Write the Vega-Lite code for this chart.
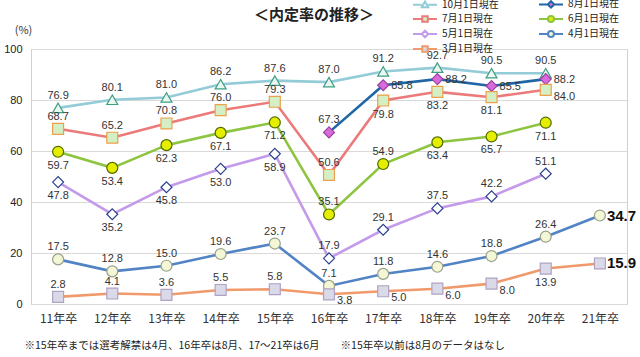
{
  "$schema": "https://vega.github.io/schema/vega-lite/v6.json",
  "width": 596,
  "height": 255,
  "autosize": {"type": "none"},
  "padding": {"left": 31, "top": 49, "right": 13, "bottom": 53},
  "title": {"text": "＜内定率の推移＞", "fontSize": 15, "fontWeight": "bold", "font": "Noto Sans CJK JP", "color": "#222222", "anchor": "middle", "dx": -15, "dy": 25, "frame": "group", "offset": 0},
  "config": {
    "view": {"stroke": "#D0D0D0", "strokeWidth": 1},
    "font": "Noto Sans CJK JP"
  },
  "data": {"values": [
    {"series": "10月1日現在", "year": "11年卒", "value": 76.9},
    {"series": "10月1日現在", "year": "12年卒", "value": 80.1},
    {"series": "10月1日現在", "year": "13年卒", "value": 81.0},
    {"series": "10月1日現在", "year": "14年卒", "value": 86.2},
    {"series": "10月1日現在", "year": "15年卒", "value": 87.6},
    {"series": "10月1日現在", "year": "16年卒", "value": 87.0},
    {"series": "10月1日現在", "year": "17年卒", "value": 91.2},
    {"series": "10月1日現在", "year": "18年卒", "value": 92.7},
    {"series": "10月1日現在", "year": "19年卒", "value": 90.5},
    {"series": "10月1日現在", "year": "20年卒", "value": 90.5},
    {"series": "8月1日現在", "year": "16年卒", "value": 67.3},
    {"series": "8月1日現在", "year": "17年卒", "value": 85.8},
    {"series": "8月1日現在", "year": "18年卒", "value": 88.2},
    {"series": "8月1日現在", "year": "19年卒", "value": 85.5},
    {"series": "8月1日現在", "year": "20年卒", "value": 88.2},
    {"series": "7月1日現在", "year": "11年卒", "value": 68.7},
    {"series": "7月1日現在", "year": "12年卒", "value": 65.2},
    {"series": "7月1日現在", "year": "13年卒", "value": 70.8},
    {"series": "7月1日現在", "year": "14年卒", "value": 76.0},
    {"series": "7月1日現在", "year": "15年卒", "value": 79.3},
    {"series": "7月1日現在", "year": "16年卒", "value": 50.6},
    {"series": "7月1日現在", "year": "17年卒", "value": 79.8},
    {"series": "7月1日現在", "year": "18年卒", "value": 83.2},
    {"series": "7月1日現在", "year": "19年卒", "value": 81.1},
    {"series": "7月1日現在", "year": "20年卒", "value": 84.0},
    {"series": "6月1日現在", "year": "11年卒", "value": 59.7},
    {"series": "6月1日現在", "year": "12年卒", "value": 53.4},
    {"series": "6月1日現在", "year": "13年卒", "value": 62.3},
    {"series": "6月1日現在", "year": "14年卒", "value": 67.1},
    {"series": "6月1日現在", "year": "15年卒", "value": 71.2},
    {"series": "6月1日現在", "year": "16年卒", "value": 35.1},
    {"series": "6月1日現在", "year": "17年卒", "value": 54.9},
    {"series": "6月1日現在", "year": "18年卒", "value": 63.4},
    {"series": "6月1日現在", "year": "19年卒", "value": 65.7},
    {"series": "6月1日現在", "year": "20年卒", "value": 71.1},
    {"series": "5月1日現在", "year": "11年卒", "value": 47.8},
    {"series": "5月1日現在", "year": "12年卒", "value": 35.2},
    {"series": "5月1日現在", "year": "13年卒", "value": 45.8},
    {"series": "5月1日現在", "year": "14年卒", "value": 53.0},
    {"series": "5月1日現在", "year": "15年卒", "value": 58.9},
    {"series": "5月1日現在", "year": "16年卒", "value": 17.9},
    {"series": "5月1日現在", "year": "17年卒", "value": 29.1},
    {"series": "5月1日現在", "year": "18年卒", "value": 37.5},
    {"series": "5月1日現在", "year": "19年卒", "value": 42.2},
    {"series": "5月1日現在", "year": "20年卒", "value": 51.1},
    {"series": "4月1日現在", "year": "11年卒", "value": 17.5},
    {"series": "4月1日現在", "year": "12年卒", "value": 12.8},
    {"series": "4月1日現在", "year": "13年卒", "value": 15.0},
    {"series": "4月1日現在", "year": "14年卒", "value": 19.6},
    {"series": "4月1日現在", "year": "15年卒", "value": 23.7},
    {"series": "4月1日現在", "year": "16年卒", "value": 7.1},
    {"series": "4月1日現在", "year": "17年卒", "value": 11.8},
    {"series": "4月1日現在", "year": "18年卒", "value": 14.6},
    {"series": "4月1日現在", "year": "19年卒", "value": 18.8},
    {"series": "4月1日現在", "year": "20年卒", "value": 26.4},
    {"series": "4月1日現在", "year": "21年卒", "value": 34.7},
    {"series": "3月1日現在", "year": "11年卒", "value": 2.8},
    {"series": "3月1日現在", "year": "12年卒", "value": 4.1},
    {"series": "3月1日現在", "year": "13年卒", "value": 3.6},
    {"series": "3月1日現在", "year": "14年卒", "value": 5.5},
    {"series": "3月1日現在", "year": "15年卒", "value": 5.8},
    {"series": "3月1日現在", "year": "16年卒", "value": 3.8},
    {"series": "3月1日現在", "year": "17年卒", "value": 5.0},
    {"series": "3月1日現在", "year": "18年卒", "value": 6.0},
    {"series": "3月1日現在", "year": "19年卒", "value": 8.0},
    {"series": "3月1日現在", "year": "20年卒", "value": 13.9},
    {"series": "3月1日現在", "year": "21年卒", "value": 15.9}
  ]},
  "encoding": {
    "x": {
      "field": "year", "type": "ordinal",
      "scale": {"type": "point", "padding": 0.5},
      "axis": {
        "title": "※15年卒までは選考解禁は4月、16年卒は8月、17～21卒は6月　　※15年卒以前は8月のデータはなし",
        "titleFontSize": 10.5, "titleFontWeight": "normal", "titleColor": "#222222", "titleFont": "Noto Sans CJK JP",
        "titleAnchor": "start", "titleAlign": "left", "titleBaseline": "middle", "titleX": -7, "titleY": 41,
        "labelAngle": 0, "labelFontSize": 12, "labelColor": "#333333", "labelPadding": 9,
        "domain": false, "ticks": false, "grid": false
      }
    },
    "y": {
      "field": "value", "type": "quantitative",
      "scale": {"domain": [0, 100], "nice": false},
      "axis": {
        "values": [0, 20, 40, 60, 80, 100],
        "title": "(%)", "titleAngle": 0, "titleFontSize": 11, "titleFontWeight": "normal", "titleColor": "#333333",
        "titleAlign": "center", "titleBaseline": "middle", "titleX": -8, "titleY": -19,
        "labelFontSize": 11, "labelFont": "Liberation Sans", "labelColor": "#222222", "labelPadding": 9,
        "domain": true, "domainColor": "#D0D0D0", "ticks": false,
        "grid": true, "gridColor": "#D9D9D9"
      }
    }
  },
  "layer": [
    {
      "mark": {"type": "line", "strokeWidth": 2.6},
      "encoding": {
        "color": {
          "field": "series", "type": "nominal",
          "scale": {
            "domain": ["10月1日現在", "8月1日現在", "7月1日現在", "6月1日現在", "5月1日現在", "4月1日現在", "3月1日現在"],
            "range": ["#93CCD8", "#1E66A6", "#EB7A7A", "#8DC540", "#C49BEA", "#5283C4", "#F09A6C"]
          },
          "legend": {
            "title": null, "orient": "none", "legendX": 388, "legendY": -51,
            "direction": "horizontal", "columns": 2, "columnPadding": 36, "rowPadding": 0, "padding": 0,
            "symbolSize": 100, "symbolStrokeWidth": 2,
            "labelOffset": 11, "labelFontSize": 10, "labelColor": "#222222", "labelFont": "Noto Sans CJK JP",
            "encode": {
              "symbols": {
                "update": {
                  "shape": {"signal": "(datum.value == '10月1日現在') ? 'M-2.4,0L-0.65,0M0.65,0L2.4,0M0,-0.65L0.65,0.5L-0.65,0.5Z' : (datum.value == '8月1日現在' || datum.value == '5月1日現在') ? 'M-2.4,0L-0.65,0M0.65,0L2.4,0M0,-0.65L0.65,0L0,0.65L-0.65,0Z' : (datum.value == '7月1日現在' || datum.value == '3月1日現在') ? 'M-2.4,0L-0.55,0M0.55,0L2.4,0M-0.55,-0.55L0.55,-0.55L0.55,0.55L-0.55,0.55Z' : 'M-2.4,0L-0.6,0M0.6,0L2.4,0M0.6,0A0.6,0.6,0,1,1,-0.6,0A0.6,0.6,0,1,1,0.6,0Z'"},
                  "fill": {"signal": "(datum.value == '8月1日現在') ? '#D86BDB' : (datum.value == '7月1日現在') ? '#D5EFC5' : (datum.value == '6月1日現在') ? '#E6EE00' : (datum.value == '3月1日現在') ? '#D9D9E8' : (datum.value == '4月1日現在') ? '#F3F7D5' : '#FFFFFF'"},
                  "strokeWidth": {"value": 2},
                  "opacity": {"value": 1}
                }
              }
            }
          }
        }
      }
    },
    {
      "mark": {"type": "point", "filled": false, "size": 120, "strokeWidth": 1.2, "opacity": 1},
      "encoding": {
        "shape": {
          "condition": [
            {"test": "datum.series == '10月1日現在'", "value": "triangle-up"},
            {"test": "datum.series == '8月1日現在' || datum.series == '5月1日現在'", "value": "diamond"},
            {"test": "datum.series == '7月1日現在' || datum.series == '3月1日現在'", "value": "square"}
          ],
          "value": "circle"
        },
        "fill": {
          "condition": [
            {"test": "datum.series == '10月1日現在'", "value": "#EAF8F0"},
            {"test": "datum.series == '8月1日現在'", "value": "#D86BDB"},
            {"test": "datum.series == '7月1日現在'", "value": "#D5EFC5"},
            {"test": "datum.series == '6月1日現在'", "value": "#E6EE00"},
            {"test": "datum.series == '5月1日現在'", "value": "#FFFFFF"},
            {"test": "datum.series == '4月1日現在'", "value": "#F3F7D5"}
          ],
          "value": "#D9D9E8"
        },
        "stroke": {
          "condition": [
            {"test": "datum.series == '10月1日現在'", "value": "#3E9E86"},
            {"test": "datum.series == '8月1日現在'", "value": "#9A3FA0"},
            {"test": "datum.series == '7月1日現在'", "value": "#EDA04B"},
            {"test": "datum.series == '6月1日現在'", "value": "#4E6B00"},
            {"test": "datum.series == '5月1日現在'", "value": "#2A3F8F"},
            {"test": "datum.series == '4月1日現在'", "value": "#98A08A"}
          ],
          "value": "#B0A2C4"
        }
      }
    },
    {
      "transform": [{"filter": "!((datum.series == '7月1日現在' && indexof(['17年卒','18年卒','19年卒','20年卒'], datum.year) >= 0) || (datum.series == '6月1日現在' && datum.year != '16年卒' && datum.year != '17年卒') || (datum.series == '5月1日現在' && indexof(['11年卒','12年卒','13年卒','14年卒','15年卒'], datum.year) >= 0) || (datum.series == '3月1日現在' && indexof(['16年卒','17年卒','18年卒','19年卒','20年卒'], datum.year) >= 0) || (datum.series == '8月1日現在' && datum.year != '16年卒') || datum.year == '21年卒')"}],
      "mark": {"type": "text", "baseline": "bottom", "dy": -7, "fontSize": 11, "font": "Liberation Sans", "color": "#333333"},
      "encoding": {"text": {"field": "value", "type": "quantitative", "format": ".1f"}}
    },
    {
      "transform": [{"filter": "(datum.series == '7月1日現在' && indexof(['17年卒','18年卒','19年卒'], datum.year) >= 0) || (datum.series == '6月1日現在' && datum.year != '16年卒' && datum.year != '17年卒') || (datum.series == '5月1日現在' && indexof(['11年卒','12年卒','13年卒','14年卒','15年卒'], datum.year) >= 0) || (datum.series == '3月1日現在' && datum.year == '20年卒')"}],
      "mark": {"type": "text", "baseline": "top", "dy": 8, "fontSize": 11, "font": "Liberation Sans", "color": "#333333"},
      "encoding": {"text": {"field": "value", "type": "quantitative", "format": ".1f"}}
    },
    {
      "transform": [{"filter": "datum.series == '8月1日現在' && datum.year != '16年卒'"}],
      "mark": {"type": "text", "align": "left", "baseline": "middle", "dx": 8, "dy": 1, "fontSize": 11, "font": "Liberation Sans", "color": "#333333"},
      "encoding": {"text": {"field": "value", "type": "quantitative", "format": ".1f"}}
    },
    {
      "transform": [{"filter": "(datum.series == '3月1日現在' && indexof(['16年卒','17年卒','18年卒','19年卒'], datum.year) >= 0) || (datum.series == '7月1日現在' && datum.year == '20年卒')"}],
      "mark": {"type": "text", "align": "left", "baseline": "middle", "dx": 8, "dy": 7, "fontSize": 11, "font": "Liberation Sans", "color": "#333333"},
      "encoding": {"text": {"field": "value", "type": "quantitative", "format": ".1f"}}
    },
    {
      "transform": [{"filter": "datum.year == '21年卒'"}],
      "mark": {"type": "text", "align": "left", "baseline": "middle", "dx": 7, "fontSize": 15, "fontWeight": "bold", "font": "Liberation Sans", "color": "#111111"},
      "encoding": {"text": {"field": "value", "type": "quantitative", "format": ".1f"}}
    }
  ]
}
